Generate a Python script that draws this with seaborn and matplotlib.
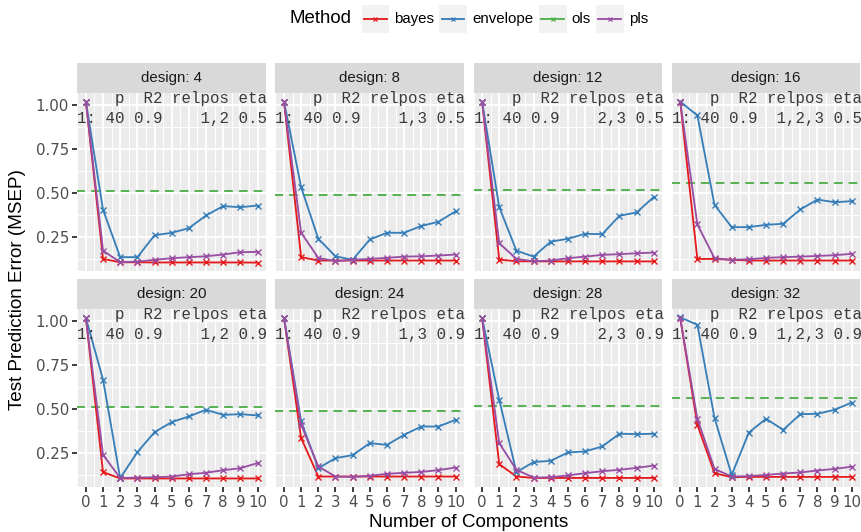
import numpy as np
import pandas as pd
import matplotlib
matplotlib.use("Agg")
import matplotlib.pyplot as plt
import seaborn as sns
from matplotlib.lines import Line2D
from matplotlib.patches import Rectangle
from matplotlib.ticker import MultipleLocator, FixedLocator, FormatStrFormatter

# ---------------- data ----------------
designs = [4, 8, 12, 16, 20, 24, 28, 32]
ncomp = list(range(11))
methods = ["bayes", "envelope", "ols", "pls"]
colors = ["#E41A1C", "#377EB8", "#4DAF4A", "#984EA3"]

p_value = 40
r2_value = "0.9"
relpos = ["1,2", "1,3", "2,3", "1,2,3", "1,2", "1,3", "2,3", "1,2,3"]
eta = ["0.5", "0.5", "0.5", "0.5", "0.9", "0.9", "0.9", "0.9"]

bayes = {
    4:  [1.018, 0.127, 0.108, 0.108, 0.107, 0.107, 0.107, 0.107, 0.107, 0.107, 0.106],
    8:  [1.018, 0.137, 0.118, 0.118, 0.118, 0.118, 0.118, 0.118, 0.118, 0.118, 0.118],
    12: [1.018, 0.123, 0.114, 0.113, 0.113, 0.113, 0.113, 0.113, 0.113, 0.113, 0.113],
    16: [1.018, 0.127, 0.127, 0.122, 0.118, 0.118, 0.118, 0.118, 0.118, 0.118, 0.118],
    20: [1.016, 0.143, 0.107, 0.107, 0.107, 0.107, 0.107, 0.107, 0.107, 0.107, 0.107],
    24: [1.016, 0.335, 0.118, 0.118, 0.118, 0.118, 0.118, 0.118, 0.118, 0.118, 0.118],
    28: [1.016, 0.188, 0.118, 0.110, 0.110, 0.110, 0.110, 0.110, 0.110, 0.110, 0.110],
    32: [1.016, 0.411, 0.137, 0.114, 0.116, 0.116, 0.116, 0.116, 0.116, 0.116, 0.116],
}
envelope = {
    4:  [1.018, 0.405, 0.137, 0.137, 0.261, 0.275, 0.301, 0.373, 0.426, 0.420, 0.429],
    8:  [1.018, 0.533, 0.241, 0.142, 0.122, 0.237, 0.275, 0.275, 0.314, 0.337, 0.397],
    12: [1.018, 0.420, 0.174, 0.140, 0.225, 0.241, 0.269, 0.267, 0.371, 0.390, 0.477],
    16: [1.018, 0.939, 0.433, 0.307, 0.307, 0.320, 0.326, 0.407, 0.463, 0.448, 0.454],
    20: [1.016, 0.666, 0.109, 0.256, 0.369, 0.426, 0.458, 0.496, 0.467, 0.471, 0.464],
    24: [1.016, 0.430, 0.165, 0.222, 0.239, 0.307, 0.297, 0.354, 0.401, 0.401, 0.439],
    28: [1.016, 0.552, 0.143, 0.200, 0.207, 0.254, 0.260, 0.288, 0.360, 0.358, 0.360],
    32: [1.019, 0.977, 0.449, 0.127, 0.367, 0.445, 0.382, 0.471, 0.473, 0.496, 0.537],
}
pls = {
    4:  [1.018, 0.174, 0.108, 0.112, 0.122, 0.131, 0.137, 0.142, 0.152, 0.165, 0.167],
    8:  [1.018, 0.275, 0.133, 0.114, 0.122, 0.127, 0.133, 0.140, 0.142, 0.146, 0.152],
    12: [1.018, 0.216, 0.127, 0.114, 0.118, 0.131, 0.140, 0.150, 0.154, 0.159, 0.163],
    16: [1.018, 0.322, 0.131, 0.122, 0.125, 0.133, 0.137, 0.140, 0.144, 0.148, 0.156],
    20: [1.016, 0.241, 0.109, 0.112, 0.114, 0.118, 0.131, 0.139, 0.154, 0.165, 0.194],
    24: [1.016, 0.411, 0.175, 0.118, 0.116, 0.122, 0.133, 0.139, 0.144, 0.154, 0.169],
    28: [1.016, 0.307, 0.156, 0.112, 0.114, 0.124, 0.137, 0.148, 0.156, 0.167, 0.180],
    32: [1.016, 0.445, 0.161, 0.118, 0.120, 0.127, 0.135, 0.141, 0.152, 0.161, 0.174],
}
ols = [0.509, 0.490, 0.518, 0.558, 0.511, 0.490, 0.518, 0.562]

rows = []
for d in designs:
    for name, tab in (("bayes", bayes), ("envelope", envelope), ("pls", pls)):
        for k, v in zip(ncomp, tab[d]):
            rows.append({"design": d, "Method": name, "ncomp": k, "MSEP": v})
df = pd.DataFrame(rows)
ols_df = pd.DataFrame({"design": designs, "MSEP": ols})

palette = dict(zip(methods, colors))
line_methods = ["bayes", "envelope", "pls"]

# ---------------- plot ----------------
g = sns.relplot(
    data=df, x="ncomp", y="MSEP", hue="Method", hue_order=line_methods,
    palette=palette, col="design", col_wrap=4, kind="line",
    marker="x", markersize=4, markeredgewidth=1.0, linewidth=1.33,
    errorbar=None, legend=False, height=2.5, aspect=1.0,
    facet_kws=dict(sharex=True, sharey=True),
)

plt.rcParams["font.family"] = ["Liberation Sans", "DejaVu Sans"]

fig = g.figure
W, H = 862, 532
fig.set_size_inches(W / 100, H / 100)
pw, ph = 188.4, 177.4
fig.subplots_adjust(left=77.3 / W, right=860.4 / W, top=1 - 93.3 / H,
                    bottom=1 - 486.7 / H, wspace=9.3 / pw, hspace=38.6 / ph)

axes = g.axes.flatten()
for i, (ax, d) in enumerate(zip(axes, designs)):
    for ln in ax.lines:
        ln.set_markeredgecolor(ln.get_color())
        ln.set_solid_joinstyle("round")
        ln.set_solid_capstyle("round")
    ax.axhline(ols_df.loc[ols_df.design == d, "MSEP"].iloc[0], color=palette["ols"],
               lw=1.33, ls=(0, (4, 4)), dash_capstyle="round", zorder=1.5)
    ax.set_facecolor("#EBEBEB")
    for s in ax.spines.values():
        s.set_visible(False)
    ax.set_title("")
    ax.set_xlabel("")
    ax.set_ylabel("")
    ax.set_xlim(-0.5, 10.5)
    ax.xaxis.set_major_locator(FixedLocator(ncomp))
    ax.xaxis.set_minor_locator(MultipleLocator(0.5))
    ax.yaxis.set_major_locator(FixedLocator([0.25, 0.5, 0.75, 1.0]))
    ax.yaxis.set_minor_locator(FixedLocator([0.125, 0.375, 0.625, 0.875]))
    ax.yaxis.set_major_formatter(FormatStrFormatter("%.2f"))
    ax.set_axisbelow(True)
    ax.grid(which="major", color="white", lw=1.33)
    ax.grid(which="minor", color="white", lw=0.67)
    ax.tick_params(which="major", length=3.6, width=1.33, color="#333333",
                   labelsize=10.8, labelcolor="#4D4D4D", pad=2.4)
    ax.tick_params(which="minor", length=0)
    if i < 4:
        ax.tick_params(axis="x", length=0, labelbottom=False)
    else:
        ax.tick_params(axis="x", labelbottom=True)
    if i % 4 != 0:
        ax.tick_params(axis="y", length=0, labelleft=False)
    # strip
    sh = 30 / ph
    ax.add_patch(Rectangle((0, 1), 1, sh, transform=ax.transAxes, clip_on=False,
                           facecolor="#D9D9D9", edgecolor="none"))
    ax.text(0.5, 1 + sh / 2, f"design: {d}", transform=ax.transAxes,
            ha="center", va="center", fontsize=10.8, color="#1A1A1A")
    # in-panel table text
    header = "    p  R2 relpos eta"
    row = f"1: {p_value} {r2_value} {relpos[i]:>6} {eta[i]}"
    ax.text(0, 1 - 9.6 / ph, header, transform=ax.transAxes, ha="left",
            va="baseline", family="Liberation Mono", fontsize=11.3, color="#3A3A3A")
    ax.text(0, 1 - 29.8 / ph, row, transform=ax.transAxes, ha="left",
            va="baseline", family="Liberation Mono", fontsize=11.3, color="#3A3A3A")

# axis titles
fig.text(17.5 / W, 1 - 290 / H, "Test Prediction Error (MSEP)", rotation=90,
         ha="center", va="center", fontsize=13.6, color="black")
fig.text(468.9 / W, 1 - 522.7 / H, "Number of Components", ha="center",
         va="center", fontsize=13.6, color="black")

# legend (top)
ly = 18.9
fig.text(290 / W, 1 - ly / H, "Method", ha="left", va="center", fontsize=13.4)
key_x = [361.7, 439.3, 539.0, 596.0]
ks = 27.6
for m, c, kx in zip(methods, colors, key_x):
    fig.add_artist(Rectangle((kx / W, 1 - (ly + ks / 2) / H), ks / W, ks / H,
                             transform=fig.transFigure, facecolor="#F2F2F2",
                             edgecolor="none"))
    fig.add_artist(Line2D([(kx + 2.5) / W, (kx + ks - 2.5) / W], [1 - ly / H] * 2,
                          transform=fig.transFigure, color=c, lw=1.33))
    fig.add_artist(Line2D([(kx + ks / 2) / W], [1 - ly / H], transform=fig.transFigure,
                          color=c, marker="x", markersize=3, mew=0.9, ls="none"))
    fig.text((kx + ks + 5) / W, 1 - ly / H, m, ha="left", va="center", fontsize=10.8)

fig.savefig("out.png", dpi=100)
